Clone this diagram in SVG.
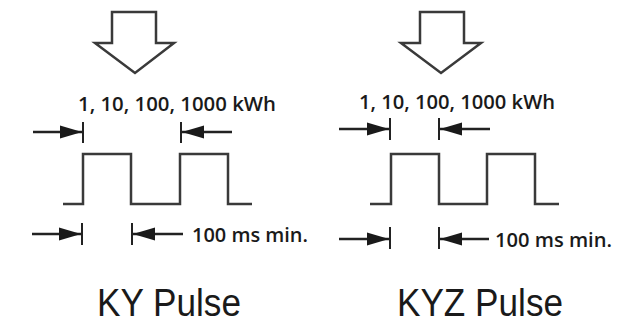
<svg xmlns="http://www.w3.org/2000/svg" width="644" height="325" viewBox="0 0 644 325">
<style>
.bg{fill:#fff}
.big{fill:#fff;stroke:#3a3a3a;stroke-width:2.5;stroke-linejoin:miter}
.wave{fill:none;stroke:#3a3a3a;stroke-width:2.5}
.dim{stroke:#222;stroke-width:2.5;fill:none}
.tick{stroke:#222;stroke-width:2}
.lbl{font-family:"Open Sans","Liberation Sans",sans-serif;font-size:20px;font-weight:600;fill:#1a1a1a}
.title{font-family:"Liberation Sans","Open Sans",sans-serif;font-size:39px;fill:#1a1a1a}
</style>
<defs>
<marker id="ah" markerUnits="userSpaceOnUse" markerWidth="24" markerHeight="14" refX="22" refY="7" orient="auto">
<path d="M0,0.5 L22,7 L0,13.5 z" fill="#1a1a1a"/>
</marker>
</defs>
<rect class="bg" x="0" y="0" width="644" height="325"/>
<g id="ky-arrow"><path class="big" d="M112,12 H156 V43 H174 L135,73 L95,43 H112 Z"/></g>
<g id="kyz-arrow"><path class="big" d="M420,12 H464 V43 H481 L441,73 L401,43 H420 Z"/></g>
<g id="ky-energy-label"><text class="lbl" x="78" y="111" textLength="198" lengthAdjust="spacingAndGlyphs">1, 10, 100, 1000 kWh</text></g>
<g id="kyz-energy-label"><text class="lbl" x="359" y="109" textLength="196" lengthAdjust="spacingAndGlyphs">1, 10, 100, 1000 kWh</text></g>
<g id="ky-wave"><path class="wave" d="M63,204 H83 V154 H131 V204 H180 V154 H228 V204 H252"/></g>
<g id="kyz-wave"><path class="wave" d="M370,204 H391 V154 H439 V204 H487 V154 H535 V204 H559"/></g>
<g id="ky-time-label"><text class="lbl" x="192" y="242" textLength="116" lengthAdjust="spacingAndGlyphs">100 ms min.</text></g>
<g id="kyz-time-label"><text class="lbl" x="495" y="247" textLength="117" lengthAdjust="spacingAndGlyphs">100 ms min.</text></g>
<g id="ky-title"><text class="title" x="97" y="316" textLength="144" lengthAdjust="spacingAndGlyphs">KY Pulse</text></g>
<g id="kyz-title"><text class="title" x="397" y="316" textLength="166" lengthAdjust="spacingAndGlyphs">KYZ Pulse</text></g>
<g id="connectors">
<line class="tick" x1="83" y1="122" x2="83" y2="143"/>
<line class="dim" x1="33" y1="132" x2="82" y2="132" marker-end="url(#ah)"/>
<line class="tick" x1="181" y1="122" x2="181" y2="143"/>
<line class="dim" x1="232" y1="132" x2="182" y2="132" marker-end="url(#ah)"/>
<line class="tick" x1="82" y1="223" x2="82" y2="245"/>
<line class="dim" x1="32" y1="234" x2="81" y2="234" marker-end="url(#ah)"/>
<line class="tick" x1="132" y1="223" x2="132" y2="245"/>
<line class="dim" x1="183" y1="234" x2="133" y2="234" marker-end="url(#ah)"/>
<line class="tick" x1="390" y1="118" x2="390" y2="140"/>
<line class="dim" x1="339" y1="129" x2="389" y2="129" marker-end="url(#ah)"/>
<line class="tick" x1="439" y1="118" x2="439" y2="140"/>
<line class="dim" x1="490" y1="129" x2="440" y2="129" marker-end="url(#ah)"/>
<line class="tick" x1="390" y1="227" x2="390" y2="249"/>
<line class="dim" x1="339" y1="239" x2="389" y2="239" marker-end="url(#ah)"/>
<line class="tick" x1="439" y1="227" x2="439" y2="249"/>
<line class="dim" x1="489" y1="239" x2="440" y2="239" marker-end="url(#ah)"/>
</g>
</svg>
